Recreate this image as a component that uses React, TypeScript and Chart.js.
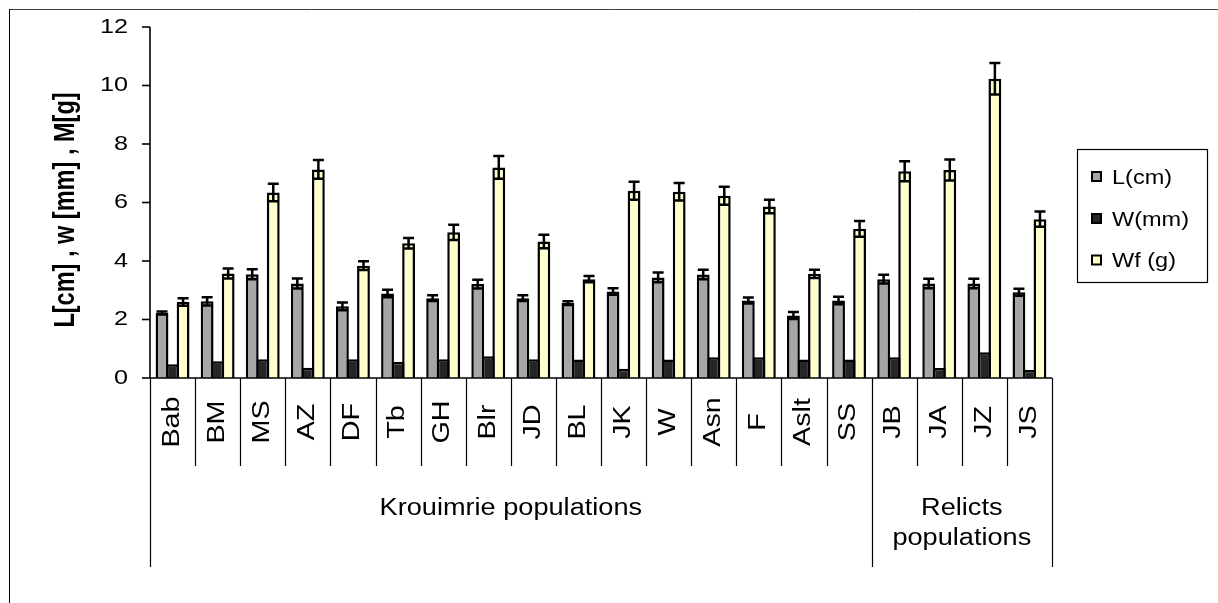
import React, { useEffect, useRef } from "react";
import { Chart, registerables } from "chart.js";

Chart.register(...registerables);

// ---------- data ----------
const categories = ["Bab", "BM", "MS", "AZ", "DF", "Tb", "GH", "Blr", "JD", "BL", "JK", "W", "Asn", "F", "Aslt", "SS", "JB", "JA", "JZ", "JS"];
const lengthCm = [2.22, 2.62, 3.55, 3.23, 2.45, 2.89, 2.73, 3.21, 2.73, 2.56, 2.96, 3.44, 3.54, 2.65, 2.14, 2.65, 3.38, 3.23, 3.23, 2.93];
const lengthErr = [0.05, 0.14, 0.17, 0.17, 0.13, 0.13, 0.1, 0.15, 0.1, 0.06, 0.11, 0.17, 0.16, 0.1, 0.12, 0.13, 0.15, 0.16, 0.16, 0.12];
const widthMm = [0.47, 0.57, 0.64, 0.35, 0.64, 0.55, 0.64, 0.74, 0.64, 0.63, 0.32, 0.63, 0.71, 0.71, 0.63, 0.63, 0.71, 0.34, 0.88, 0.27];
const fruitWeight = [2.6, 3.57, 6.34, 7.13, 3.84, 4.61, 4.98, 7.2, 4.67, 3.38, 6.4, 6.37, 6.23, 5.86, 3.56, 5.1, 7.07, 7.11, 10.23, 5.43];
const fruitWeightErr = [0.13, 0.17, 0.3, 0.32, 0.15, 0.18, 0.26, 0.39, 0.23, 0.11, 0.31, 0.3, 0.31, 0.23, 0.14, 0.27, 0.34, 0.36, 0.54, 0.26];
const seriesNames = ["L(cm)", "W(mm)", "Wf (g)"];
const seriesColors = ["#a6a6a6", "#262626", "#ffffcc"];
const yTickValues = [0, 2, 4, 6, 8, 10, 12];
const yTitle = "L[cm] , w [mm] , M[g]";
const groupLabels = [["Krouimrie populations"], ["Relicts", "populations"]];
const groupFirst = [0, 16];
const groupLast = [15, 19];

const FONT = '"Liberation Sans", Arial, sans-serif';

function drawText(
  ctx: CanvasRenderingContext2D,
  text: string,
  x: number,
  y: number,
  opts: { font: string; align?: CanvasTextAlign; baseline?: CanvasTextBaseline; rot?: number; sx?: number; sy?: number }
) {
  ctx.save();
  ctx.translate(x, y);
  if (opts.rot) ctx.rotate(opts.rot);
  ctx.scale(opts.sx ?? 1, opts.sy ?? 1);
  ctx.font = opts.font;
  ctx.fillStyle = "#000";
  ctx.textAlign = opts.align ?? "left";
  ctx.textBaseline = opts.baseline ?? "alphabetic";
  ctx.fillText(text, 0, 0);
  ctx.restore();
}

const decorPlugin = {
  id: "decor",
  afterDatasetsDraw(chart: any) {
    const ctx: CanvasRenderingContext2D = chart.ctx;
    const yScale = chart.scales.y;
    const errSets: [number, number[], number[]][] = [
      [0, lengthCm, lengthErr],
      [2, fruitWeight, fruitWeightErr],
    ];
    ctx.save();
    ctx.strokeStyle = "#000";
    ctx.lineWidth = 2.5;
    for (const [di, vals, errs] of errSets) {
      const meta = chart.getDatasetMeta(di);
      meta.data.forEach((bar: any, i: number) => {
        const x = bar.x;
        const yt = yScale.getPixelForValue(vals[i] + errs[i]);
        const yb = yScale.getPixelForValue(vals[i] - errs[i]);
        const hw = 5.5;
        ctx.beginPath();
        ctx.moveTo(x, yt);
        ctx.lineTo(x, yb);
        ctx.moveTo(x - hw, yt);
        ctx.lineTo(x + hw, yt);
        ctx.moveTo(x - hw, yb);
        ctx.lineTo(x + hw, yb);
        ctx.stroke();
      });
    }
    ctx.restore();
  },
  afterDraw(chart: any) {
    const ctx: CanvasRenderingContext2D = chart.ctx;
    const { left, right, top, bottom } = chart.chartArea;
    const yScale = chart.scales.y;
    const xScale = chart.scales.x;
    ctx.save();

    // outer frame (top + left only)
    ctx.strokeStyle = "#404040";
    ctx.lineWidth = 1;
    ctx.beginPath();
    ctx.moveTo(9, 9.5);
    ctx.lineTo(1218, 9.5);
    ctx.stroke();
    ctx.strokeStyle = "#000";
    ctx.beginPath();
    ctx.moveTo(9.5, 9);
    ctx.lineTo(9.5, 603);
    ctx.stroke();

    // y axis
    ctx.strokeStyle = "#000";
    ctx.lineWidth = 1.6;
    ctx.beginPath();
    ctx.moveTo(left, top);
    ctx.lineTo(left, bottom);
    ctx.stroke();
    for (const v of yTickValues) {
      const y = yScale.getPixelForValue(v);
      ctx.beginPath();
      ctx.moveTo(left - 8, y);
      ctx.lineTo(left, y);
      ctx.stroke();
      drawText(ctx, String(v), 128, y, { font: `20px ${FONT}`, align: "right", baseline: "middle", sx: 1.26 });
    }

    // y title
    drawText(ctx, yTitle, 66, 210, { font: `bold 24px ${FONT}`, align: "center", baseline: "middle", rot: -Math.PI / 2, sx: 0.98, sy: 1.26 });

    // x axis line
    ctx.lineWidth = 1.5;
    ctx.beginPath();
    ctx.moveTo(left, bottom);
    ctx.lineTo(right, bottom);
    ctx.stroke();

    // category dividers & labels
    const n = categories.length;
    const centers = categories.map((_, i) => xScale.getPixelForValue(i));
    const bounds: number[] = [left];
    for (let i = 0; i < n - 1; i++) bounds.push((centers[i] + centers[i + 1]) / 2);
    bounds.push(right);
    const groupBounds = new Set<number>();
    groupFirst.forEach((g) => groupBounds.add(g));
    groupBounds.add(n);
    ctx.lineWidth = 1.2;
    bounds.forEach((bx, i) => {
      const longLine = groupBounds.has(i);
      const xx = Math.round(bx) + 0.5;
      ctx.beginPath();
      ctx.moveTo(xx, bottom);
      ctx.lineTo(xx, longLine ? 567 : 466);
      ctx.stroke();
    });
    categories.forEach((c, i) => {
      drawText(ctx, c, centers[i], 422, { font: `23px ${FONT}`, align: "center", baseline: "middle", rot: -Math.PI / 2, sx: 1.25 });
    });

    // group labels
    groupLabels.forEach((lines, g) => {
      const cx = (bounds[groupFirst[g]] + bounds[groupLast[g] + 1]) / 2;
      lines.forEach((line, li) => {
        drawText(ctx, line, cx, 515 + li * 30, { font: `23px ${FONT}`, align: "center", baseline: "alphabetic", sx: 1.18 });
      });
    });

    // legend
    ctx.strokeStyle = "#000";
    ctx.lineWidth = 1.2;
    ctx.strokeRect(1077.5, 149.5, 130, 133);
    const baselines = [183.5, 225.5, 267];
    seriesNames.forEach((name, i) => {
      const b = baselines[i];
      ctx.fillStyle = seriesColors[i];
      ctx.fillRect(1092, b - 11.5, 9, 9);
      ctx.lineWidth = 2;
      ctx.strokeRect(1092, b - 11.5, 9, 9);
      drawText(ctx, name, 1112, b, { font: `21px ${FONT}`, align: "left", baseline: "alphabetic", sx: 1.12 });
    });

    ctx.restore();
  },
};

export default function App() {
  const canvasRef = useRef<HTMLCanvasElement | null>(null);

  useEffect(() => {
    if (!canvasRef.current) return;
    const values = [lengthCm, widthMm, fruitWeight];
    const chart = new Chart(canvasRef.current, {
      type: "bar",
      data: {
        labels: categories,
        datasets: values.map((v, i) => ({
          label: seriesNames[i],
          data: v,
          backgroundColor: seriesColors[i],
          borderColor: "#000",
          borderWidth: 2.5,
          borderSkipped: "bottom",
          categoryPercentage: 0.7,
          barPercentage: 1.22,
          inflateAmount: 0,
        })),
      },
      options: {
        responsive: false,
        animation: false,
        devicePixelRatio: 1,
        layout: { padding: { left: 150, top: 27, right: 166, bottom: 225 } },
        plugins: { legend: { display: false }, tooltip: { enabled: false } },
        scales: {
          x: { display: false, offset: true },
          y: { display: false, min: 0, max: 12 },
        },
      },
      plugins: [decorPlugin],
    });
    return () => chart.destroy();
  }, []);

  return (
    <div style={{ position: "fixed", left: 0, top: 0, width: 1218, height: 603, background: "#fff" }}>
      <canvas ref={canvasRef} width={1218} height={603} style={{ width: 1218, height: 603, display: "block" }} />
    </div>
  );
}
